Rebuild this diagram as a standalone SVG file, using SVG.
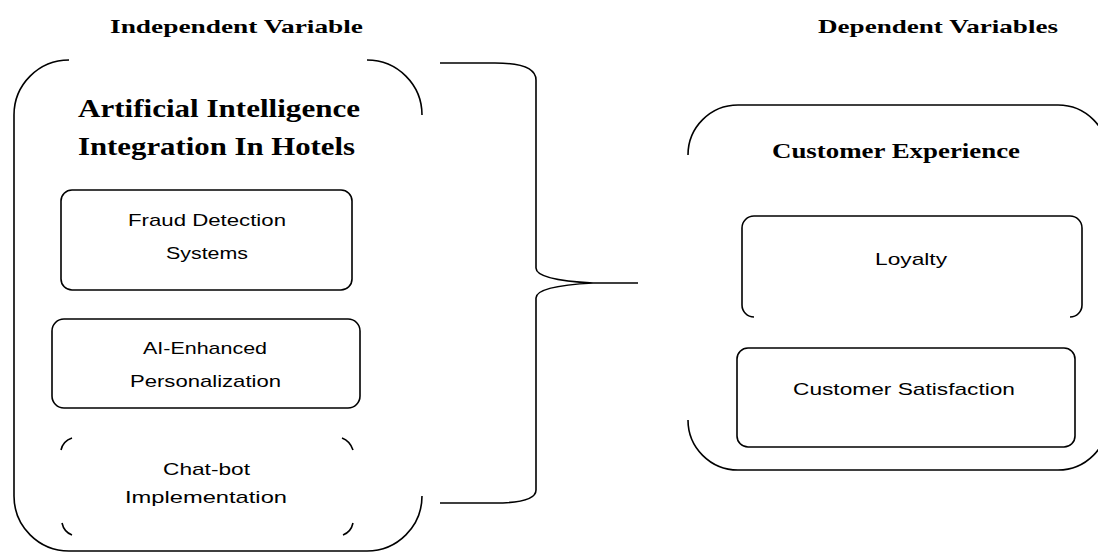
<svg xmlns="http://www.w3.org/2000/svg" width="1098" height="552" viewBox="0 0 1098 552">
<style>
.ln{fill:none;stroke:#000;stroke-width:1.6}
.h{font-family:"Liberation Serif",serif;font-weight:bold;fill:#000}
.t{font-family:"Liberation Sans",sans-serif;fill:#000;font-size:17px}
</style>
<rect width="1098" height="552" fill="#fff"/>
<text class="h" x="110" y="33" font-size="19" textLength="253" lengthAdjust="spacingAndGlyphs">Independent Variable</text>
<text class="h" x="818" y="33" font-size="19" textLength="240" lengthAdjust="spacingAndGlyphs">Dependent Variables</text>
<g id="ai-integration">
<path class="ln" d="M14 115 A55 55 0 0 1 69 60 M367 60 A55 55 0 0 1 422 115 M14 115 V496 A55 55 0 0 0 69 551 H367 A55 55 0 0 0 422 496"/>
<text class="h" x="78" y="117" font-size="25" textLength="282" lengthAdjust="spacingAndGlyphs">Artificial Intelligence</text>
<text class="h" x="78" y="155" font-size="25" textLength="277" lengthAdjust="spacingAndGlyphs">Integration In Hotels</text>
</g>
<g id="fraud">
<rect class="ln" x="61" y="190" width="291" height="100" rx="11"/>
<text class="t" x="128" y="226" textLength="158" lengthAdjust="spacingAndGlyphs">Fraud Detection</text>
<text class="t" x="166" y="259" textLength="82" lengthAdjust="spacingAndGlyphs">Systems</text>
</g>
<g id="personalization">
<rect class="ln" x="52" y="319" width="308" height="89" rx="12"/>
<text class="t" x="143" y="354" textLength="124" lengthAdjust="spacingAndGlyphs">AI-Enhanced</text>
<text class="t" x="130" y="387" textLength="151" lengthAdjust="spacingAndGlyphs">Personalization</text>
</g>
<g id="chatbot">
<path class="ln" d="M61 450 Q63 441 72 438 M342 438 Q350 441 353 450 M62 523 Q64 532 72 535 M353 523 Q351 532 343 535"/>
<text class="t" x="163" y="475" textLength="87" lengthAdjust="spacingAndGlyphs">Chat-bot</text>
<text class="t" x="125" y="503" textLength="162" lengthAdjust="spacingAndGlyphs">Implementation</text>
</g>
<g id="connectors">
<path class="ln" d="M440 63 H495 Q536 63 536 80 V268 Q536 280 593 283 M440 503 H495 Q536 503 536 490 V298 Q536 286 593 283 H638"/>
</g>
<g id="customer-experience">
<path class="ln" d="M688 155 A50 50 0 0 1 738 105 H1058 A50 50 0 0 1 1108 155 M688 420 A50 50 0 0 0 738 470 H1058 A50 50 0 0 0 1108 420"/>
<text class="h" x="772" y="158" font-size="20" textLength="248" lengthAdjust="spacingAndGlyphs">Customer Experience</text>
</g>
<g id="loyalty">
<path class="ln" d="M754 317 A12 12 0 0 1 742 305 V228 A12 12 0 0 1 754 216 H1070 A12 12 0 0 1 1082 228 V305 A12 12 0 0 1 1070 317"/>
<text class="t" x="875" y="265" textLength="72" lengthAdjust="spacingAndGlyphs">Loyalty</text>
</g>
<g id="satisfaction">
<rect class="ln" x="737" y="348" width="338" height="99" rx="11"/>
<text class="t" x="793" y="395" textLength="222" lengthAdjust="spacingAndGlyphs">Customer Satisfaction</text>
</g>
</svg>
